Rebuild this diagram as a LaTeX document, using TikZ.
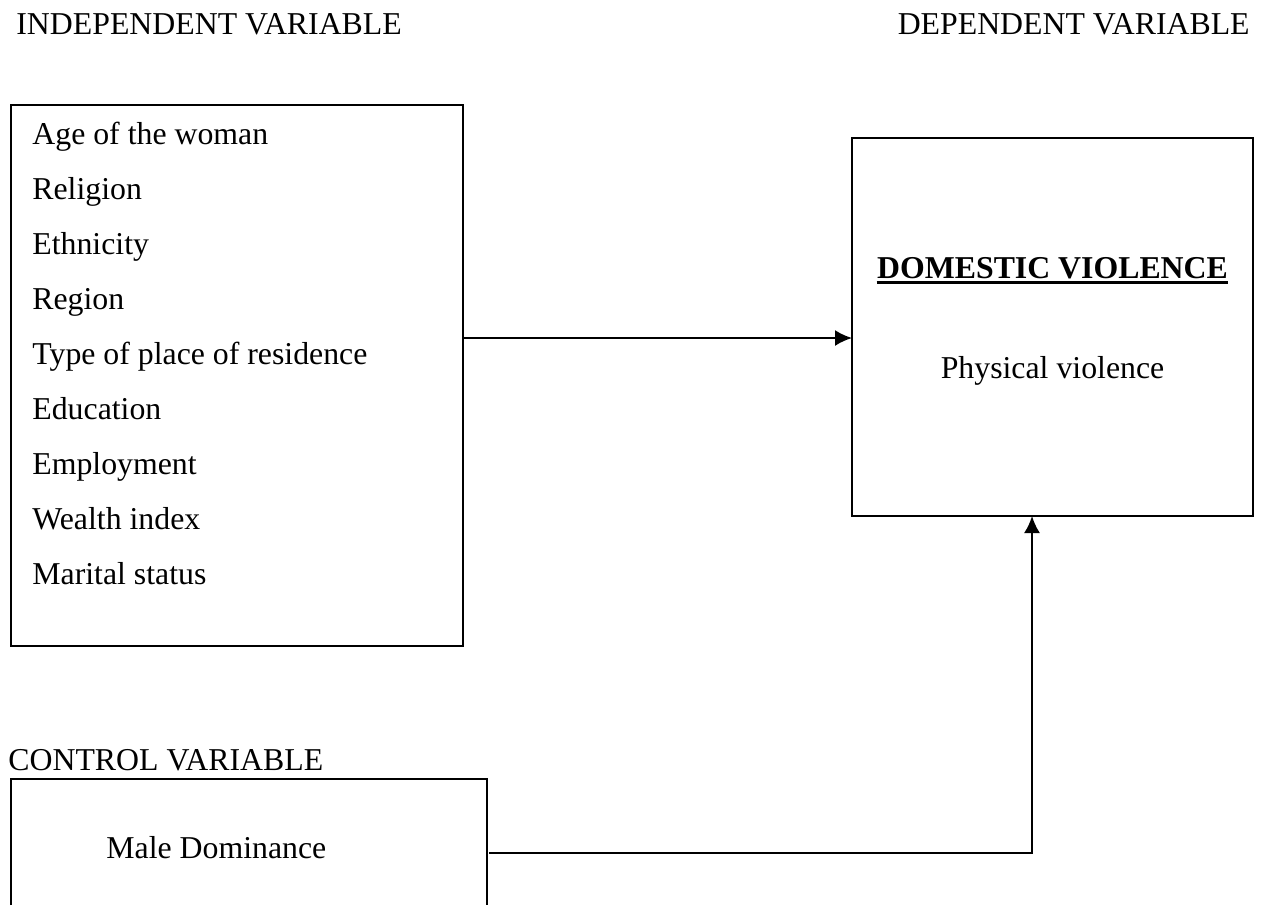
\documentclass[tikz,border=0pt]{standalone}
\usepackage{fontspec}
\setmainfont{Liberation Serif}
\usetikzlibrary{arrows.meta}
\newcommand{\txtfont}{\fontsize{15.9pt}{19pt}\selectfont}
\tikzset{
  boxline/.style={draw=black, line width=1pt},
  varbox/.style={boxline, inner sep=0pt, outer sep=0pt},
  lbl/.style={inner sep=0pt, anchor=base west, font=\txtfont},
  clbl/.style={inner sep=0pt, anchor=base, font=\txtfont},
  arr/.style={line width=1pt, -{Latex[length=8.5pt,width=8pt]}}
}
\begin{document}
\begin{tikzpicture}[x=0.5pt,y=-0.5pt]
\useasboundingbox (0,0) rectangle (1261,905);
% headings
\node[lbl] (hiv) at (16,34) {INDEPENDENT VARIABLE};
\node[lbl, anchor=base east] (hdv) at (1250,34) {DEPENDENT VARIABLE};
\node[lbl] (hcv) at (8,770) {CONTROL VARIABLE};
% independent box
\node[varbox, minimum width=226pt, minimum height=270.5pt] (iv) at (237,375.5) {};
\foreach \t [count=\i from 0] in {Age of the woman, Religion, Ethnicity, Region, Type of place of residence, Education, Employment, Wealth index, Marital status}{
  \node[lbl] (iv\i) at (32,144+55.1*\i) {\t};
}
% dependent box
\node[varbox, minimum width=200.5pt, minimum height=189pt] (dv) at (1052.5,327) {};
\node[clbl, font=\txtfont\bfseries] (dvt) at (1052.5,278) {DOMESTIC VIOLENCE};
\draw[line width=1.4pt] ([yshift=-2.2pt]dvt.base west) -- ([yshift=-2.2pt]dvt.base east);
\node[clbl] (dvs) at (1052.5,378) {Physical violence};
% control box (open at bottom)
\node[inner sep=0pt, outer sep=0pt, minimum width=238pt, minimum height=63pt] (cv) at (249,842) {};
\draw[boxline] (cv.south west) -- (cv.north west) -- (cv.north east) -- (cv.south east);
\node[lbl] (cvt) at (106,858) {Male Dominance};
% connectors
\coordinate (a1) at (0,338);
\draw[arr] (iv.east |- a1) -- (dv.west |- a1);
\coordinate (c1) at (489,853);
\coordinate (c2) at (1032,0);
\draw[arr] (c1) -- (c1 -| c2) -- (dv.south -| c2);
\end{tikzpicture}
\end{document}
